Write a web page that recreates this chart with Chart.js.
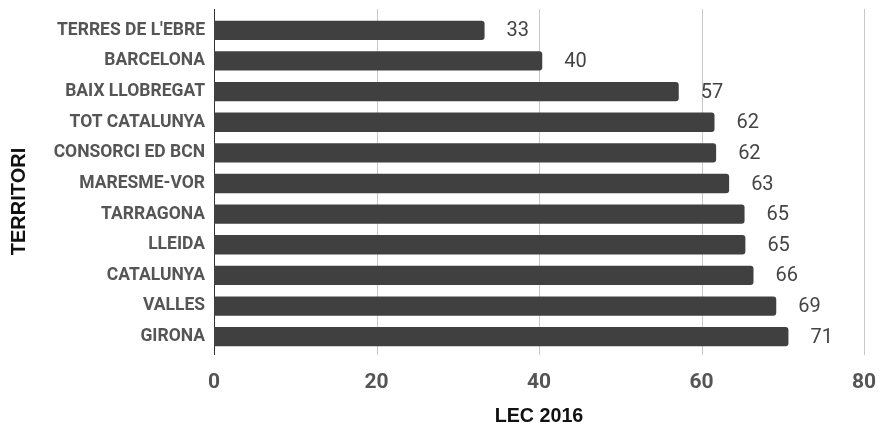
<!DOCTYPE html>
<html>
<head>
<meta charset="utf-8">
<title>LEC 2016 per territori</title>
<script src="https://cdn.jsdelivr.net/npm/chart.js@4.4.1/dist/chart.umd.min.js"></script>
<style>
  html, body { margin: 0; padding: 0; background: #fff; }
  canvas { display: block; }
</style>
</head>
<body>
<canvas id="lecChart" width="880" height="423"></canvas>
<script>
// LEC 2016 by territory
const territoris = [
    'TERRES DE L\'EBRE', 'BARCELONA', 'BAIX LLOBREGAT', 'TOT CATALUNYA',
    'CONSORCI ED BCN', 'MARESME-VOR', 'TARRAGONA', 'LLEIDA',
    'CATALUNYA', 'VALLES', 'GIRONA'
];
const lec2016 = [33.3, 40.4, 57.2, 61.6, 61.8, 63.4, 65.3, 65.4, 66.4, 69.2, 70.7];
const xMin = 0;
const xMax = 80;
const xStep = 20;

// vertical grid lines, a bit taller than the plot area, with a dark zero line
const gridLines = {
    id: 'gridLines',
    beforeDatasetsDraw(chart) {
        const { ctx, chartArea, scales: { x } } = chart;
        ctx.save();
        ctx.lineWidth = 1;
        x.ticks.forEach(t => {
            const px = Math.round(x.getPixelForValue(t.value)) + 0.5;
            ctx.strokeStyle = t.value === 0 ? '#333333' : '#c8c8c8';
            ctx.beginPath();
            ctx.moveTo(px, chartArea.top - 6);
            ctx.lineTo(px, chartArea.bottom + 3);
            ctx.stroke();
        });
        ctx.restore();
    }
};

// value labels to the right of each bar
const valueLabels = {
    id: 'valueLabels',
    afterDatasetsDraw(chart) {
        const { ctx } = chart;
        const meta = chart.getDatasetMeta(0);
        ctx.save();
        ctx.font = '400 20px Roboto';
        ctx.fillStyle = '#444444';
        ctx.textAlign = 'left';
        ctx.textBaseline = 'middle';
        meta.data.forEach((bar, i) => {
            ctx.fillText(Math.round(lec2016[i]), bar.x + 22, bar.y + 1);
        });
        ctx.restore();
    }
};

// rotated y axis title
const yTitle = {
    id: 'yTitle',
    afterDraw(chart) {
        const { ctx, chartArea } = chart;
        ctx.save();
        ctx.translate(19, (chartArea.top + chartArea.bottom) / 2 + 18);
        ctx.rotate(-Math.PI / 2);
        ctx.font = 'bold 20px "Liberation Sans", Arial, sans-serif';
        ctx.fillStyle = '#111111';
        ctx.textAlign = 'center';
        ctx.textBaseline = 'middle';
        ctx.fillText('TERRITORI', 0, 0);
        ctx.restore();
    }
};

const ctx = document.getElementById('lecChart').getContext('2d');
new Chart(ctx, {
    type: 'bar',
    data: {
        labels: territoris,
        datasets: [{
            label: 'LEC 2016',
            data: lec2016,
            backgroundColor: '#404040',
            borderRadius: 3,
            borderSkipped: 'start',
            categoryPercentage: 1,
            barPercentage: 0.63
        }]
    },
    options: {
        indexAxis: 'y',
        responsive: false,
        animation: false,
        layout: {
            padding: { top: 15, right: 16, bottom: 0, left: 0 }
        },
        scales: {
            x: {
                min: xMin,
                max: xMax,
                grid: { display: false },
                border: { display: false },
                ticks: {
                    stepSize: xStep,
                    padding: 10,
                    color: '#555555',
                    font: { family: 'Roboto', size: 21, weight: 'bold' }
                },
                title: {
                    display: true,
                    text: 'LEC 2016',
                    color: '#111111',
                    padding: { top: 0, bottom: -3 },
                    font: { family: '"Liberation Sans", Arial, sans-serif', size: 19.7, weight: 'bold', lineHeight: 1 }
                },
                afterFit(scale) {
                    scale.height = 71;
                    scale.paddingLeft = 0;
                    scale.paddingRight = 0;
                }
            },
            y: {
                grid: { display: false },
                border: { display: false },
                ticks: {
                    padding: 1,
                    color: '#555555',
                    font: { family: 'Roboto', size: 17.5, weight: 'bold' }
                },
                afterFit(scale) {
                    scale.width = 214;
                    scale.paddingTop = 0;
                    scale.paddingBottom = 0;
                }
            }
        },
        plugins: {
            legend: { display: false },
            tooltip: { enabled: false }
        }
    },
    plugins: [gridLines, valueLabels, yTitle]
});
</script>
</body>
</html>
